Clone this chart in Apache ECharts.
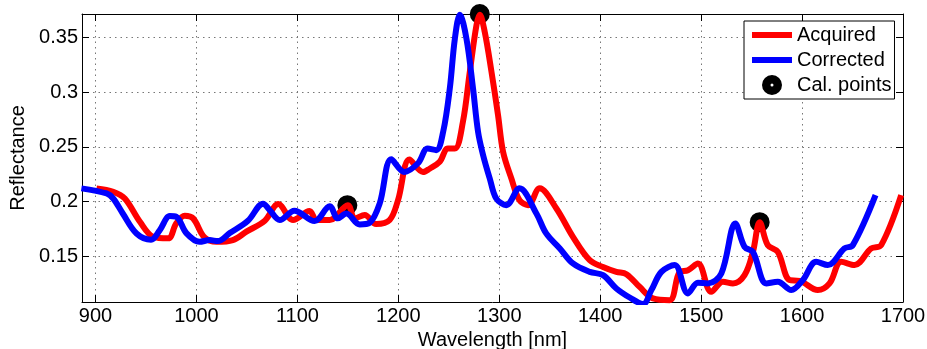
<!DOCTYPE html>
<html>
<head>
<meta charset="utf-8">
<script src="https://cdn.jsdelivr.net/npm/echarts@6/dist/echarts.min.js"></script>
<style>
  html, body { margin: 0; padding: 0; background: #fff; }
  #chart { width: 927px; height: 349px; }
</style>
</head>
<body>
<div id="chart"></div>
<script>
// wavelength [nm] / reflectance
const acquiredWl = [901, 917.5, 929, 944, 957, 972, 980, 988.4, 996.7, 1008, 1020, 1036, 1049.5, 1067.7, 1081, 1095.7, 1112, 1119, 1132, 1150, 1156.8, 1166.7, 1178, 1191.4, 1199.7, 1211, 1224.4, 1231, 1241, 1249, 1256, 1264, 1270.8, 1277.4, 1280.7, 1285.6, 1292.3, 1298.8, 1303.8, 1312, 1320, 1328.5, 1340, 1356.6, 1373, 1389.6, 1402.8, 1416, 1426, 1439, 1452.3, 1468.8, 1478.7, 1487, 1496.8, 1510, 1521.6, 1531.5, 1543, 1551.3, 1558, 1566, 1576, 1587.6, 1597.5, 1615.6, 1627.2, 1638.8, 1652, 1668.5, 1678.4, 1698.2];
const acquiredRefl = [0.2119, 0.2088, 0.2027, 0.1814, 0.1677, 0.1662, 0.18, 0.1869, 0.1845, 0.167, 0.163, 0.1646, 0.1723, 0.1823, 0.1976, 0.183, 0.1912, 0.183, 0.183, 0.1966, 0.1845, 0.1875, 0.1793, 0.183, 0.2012, 0.2384, 0.227, 0.23, 0.2363, 0.2485, 0.2485, 0.273, 0.3187, 0.3614, 0.371, 0.3553, 0.3187, 0.279, 0.2454, 0.221, 0.2012, 0.1966, 0.212, 0.1936, 0.1676, 0.1462, 0.14, 0.1355, 0.1334, 0.1218, 0.1112, 0.1096, 0.1355, 0.137, 0.1432, 0.1172, 0.1264, 0.1249, 0.1325, 0.1538, 0.181, 0.16, 0.1538, 0.128, 0.1273, 0.1188, 0.1249, 0.1447, 0.1417, 0.157, 0.16, 0.2058];

const correctedWl = [886, 911, 917.5, 927, 940.6, 955, 963.7, 973.6, 980, 990, 1003, 1013, 1021, 1033, 1051, 1066, 1072.6, 1082.5, 1097, 1117, 1132, 1140, 1148.5, 1161.7, 1171.6, 1181.5, 1193, 1206, 1219.5, 1229, 1237.6, 1244.4, 1251, 1256, 1261, 1267.5, 1274, 1279, 1284, 1290.6, 1297, 1307, 1320, 1336.8, 1346.5, 1360, 1373, 1389.6, 1402.8, 1416, 1429.2, 1442.4, 1450.7, 1460.6, 1473.8, 1486.9, 1496.8, 1506.7, 1520, 1533.9, 1543, 1551.3, 1564.6, 1576, 1589.3, 1600.8, 1614, 1625.5, 1642, 1650.3, 1672.8];
const correctedRefl = [0.212, 0.2073, 0.2027, 0.189, 0.1707, 0.165, 0.1738, 0.1866, 0.186, 0.171, 0.163, 0.1646, 0.1637, 0.171, 0.1823, 0.198, 0.192, 0.183, 0.1915, 0.182, 0.1957, 0.1845, 0.189, 0.179, 0.1805, 0.198, 0.2387, 0.227, 0.235, 0.2485, 0.247, 0.2637, 0.3035, 0.349, 0.371, 0.349, 0.3035, 0.2637, 0.2424, 0.221, 0.2027, 0.1966, 0.212, 0.189, 0.1707, 0.157, 0.1432, 0.1355, 0.1325, 0.1203, 0.112, 0.106, 0.1188, 0.1355, 0.1417, 0.1158, 0.1255, 0.1249, 0.134, 0.1798, 0.1584, 0.1538, 0.1249, 0.1264, 0.1188, 0.128, 0.1447, 0.1417, 0.157, 0.16, 0.2058];

const calWl = [1149.5, 1280.7, 1558];
const calRefl = [0.1966, 0.3717, 0.181];

const xTicks = [900, 1000, 1100, 1200, 1300, 1400, 1500, 1600, 1700];
const yTicks = [0.15, 0.2, 0.25, 0.3, 0.35];

const zip = (xs, ys) => xs.map((x, i) => [x, ys[i]]);

const FONT = '"Liberation Sans", Arial, sans-serif';
const X_MIN = 886.6, X_MAX = 1700;
const Y_MIN = 0.1079, Y_MAX = 0.3717;

// black dot with a small hole in the middle
const calSymbol = 'path://M0,10 A10,10 0 1,1 20,10 A10,10 0 1,1 0,10 Z M8.5,10 A1.5,1.5 0 1,0 11.5,10 A1.5,1.5 0 1,0 8.5,10 Z';
const lineIcon = 'path://M0,0 H40 V6 H0 Z';

const chart = echarts.init(document.getElementById('chart'));

const tick = (values) => ({
  show: true,
  inside: true,
  length: 7,
  customValues: values,
  lineStyle: { color: '#000', width: 1 },
});

const option = {
  animation: false,
  textStyle: { fontFamily: FONT },
  grid: { left: 82, right: 24, top: 14, bottom: 47, outerBoundsMode: 'none' },
  legend: {
    left: 744,
    top: 21,
    orient: 'vertical',
    backgroundColor: '#fff',
    borderColor: '#000',
    borderWidth: 1,
    padding: [4, 3, 4, 8],
    itemGap: 5,
    itemWidth: 40,
    itemHeight: 20,
    textStyle: { fontSize: 20, color: '#000', fontFamily: FONT },
    data: [
      { name: 'Acquired', icon: lineIcon },
      { name: 'Corrected', icon: lineIcon },
      { name: 'Cal. points' },
    ],
  },
  xAxis: [
    {
      type: 'value',
      min: X_MIN,
      max: X_MAX,
      name: 'Wavelength [nm]',
      nameLocation: 'middle',
      nameGap: 27,
      nameTextStyle: { fontSize: 20, color: '#000', fontFamily: FONT },
      axisLine: { onZero: false, lineStyle: { color: '#000', width: 1 } },
      axisTick: tick(xTicks),
      axisLabel: {
        customValues: xTicks,
        margin: 4,
        fontSize: 20,
        color: '#000',
        fontFamily: FONT,
        formatter: (v) => String(v),
      },
      splitLine: {
        show: true,
        lineStyle: { color: '#777', width: 1, type: [1.5, 4] },
      },
    },
    {
      type: 'value',
      position: 'top',
      min: X_MIN,
      max: X_MAX,
      axisLine: { onZero: false, lineStyle: { color: '#000', width: 1 } },
      axisTick: tick(xTicks),
      axisLabel: { show: false, customValues: xTicks },
      splitLine: { show: false },
    },
  ],
  yAxis: [
    {
      type: 'value',
      min: Y_MIN,
      max: Y_MAX,
      name: 'Reflectance',
      nameLocation: 'middle',
      nameGap: 49,
      nameTextStyle: { fontSize: 20, color: '#000', fontFamily: FONT },
      axisLine: { show: true, onZero: false, lineStyle: { color: '#000', width: 1 } },
      axisTick: tick(yTicks),
      axisLabel: {
        customValues: yTicks,
        margin: 4,
        fontSize: 20,
        color: '#000',
        fontFamily: FONT,
        formatter: (v) => String(v),
      },
      splitLine: {
        show: true,
        lineStyle: { color: '#777', width: 1, type: [1.5, 4] },
      },
    },
    {
      type: 'value',
      position: 'right',
      min: Y_MIN,
      max: Y_MAX,
      axisLine: { show: true, onZero: false, lineStyle: { color: '#000', width: 1 } },
      axisTick: tick(yTicks),
      axisLabel: { show: false, customValues: yTicks },
      splitLine: { show: false },
    },
  ],
  series: [
    {
      name: 'Acquired',
      type: 'line',
      data: zip(acquiredWl, acquiredRefl),
      smooth: 0.35,
      showSymbol: false,
      symbol: 'none',
      color: '#ff0000',
      lineStyle: { color: '#ff0000', width: 6 },
    },
    {
      name: 'Corrected',
      type: 'line',
      data: zip(correctedWl, correctedRefl),
      smooth: 0.35,
      showSymbol: false,
      symbol: 'none',
      color: '#0000ff',
      lineStyle: { color: '#0000ff', width: 6 },
    },
    {
      name: 'Cal. points',
      type: 'scatter',
      data: zip(calWl, calRefl),
      symbol: calSymbol,
      symbolSize: 20,
      clip: false,
      color: '#000',
      itemStyle: { color: '#000', opacity: 1 },
    },
  ],
};

chart.setOption(option);
window.addEventListener('resize', () => chart.resize());
</script>
</body>
</html>
